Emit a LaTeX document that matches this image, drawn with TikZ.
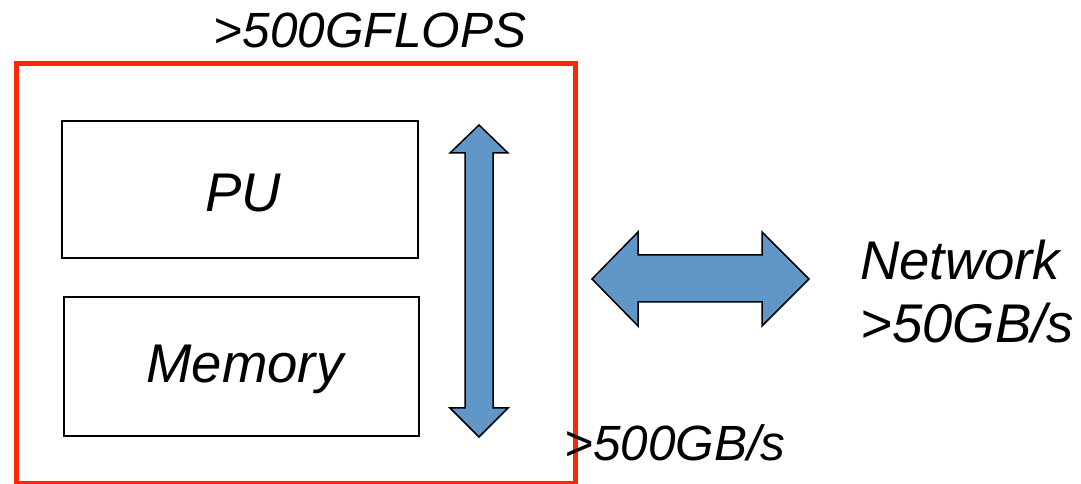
\documentclass[tikz,border=0pt]{standalone}
\usepackage{fontspec}
\setmainfont{Liberation Sans}
\begin{document}
\begin{tikzpicture}[x=1pt,y=1pt,
  box/.style={draw=black,line width=2pt,fill=white},
  redbox/.style={draw=redc,line width=5pt},
  fatarrow/.style={draw=black,line width=1.5pt,fill=arrowblue,line join=miter},
  bigtxt/.style={font=\fontsize{54.5}{60}\selectfont\itshape,inner sep=0pt},
  midtxt/.style={font=\fontsize{49.5}{56}\selectfont\itshape,inner sep=0pt}]
\definecolor{redc}{RGB}{255,40,0}
\definecolor{arrowblue}{RGB}{96,150,200}
\useasboundingbox (0,0) rectangle (1081,484);
% outer red frame
\draw[redbox] (16,420) rectangle (575,0.5);
\coordinate (frameTL) at (16,420);
% PU and Memory boxes
\draw[box] (62,363) rectangle (418,226);
\node[bigtxt,anchor=base] (pu) at (243,272) {PU};
\draw[box] (64,187) rectangle (419,48);
\node[bigtxt,anchor=base] (mem) at (245,101) {Memory};
% vertical double arrow
\draw[fatarrow] (479,359) -- (508,331) -- (493,331) -- (493,76) -- (508,76) -- (479,47)
  -- (450,76) -- (465,76) -- (465,331) -- (450,331) -- cycle;
% horizontal double arrow
\draw[fatarrow] (592,205) -- (638,252) -- (638,229) -- (762,229) -- (762,252) -- (809,205)
  -- (762,158) -- (762,182) -- (638,182) -- (638,158) -- cycle;
% labels
\node[midtxt,anchor=base] (gflops) at (370,436) {>500GFLOPS};
\node[bigtxt,anchor=base west] (net) at (860,204) {Network};
\node[bigtxt,anchor=base west] (netbw) at (860,141) {>50GB/s};
\node[midtxt,anchor=base west] (membw) at (564,23) {>500GB/s};
\end{tikzpicture}
\end{document}
